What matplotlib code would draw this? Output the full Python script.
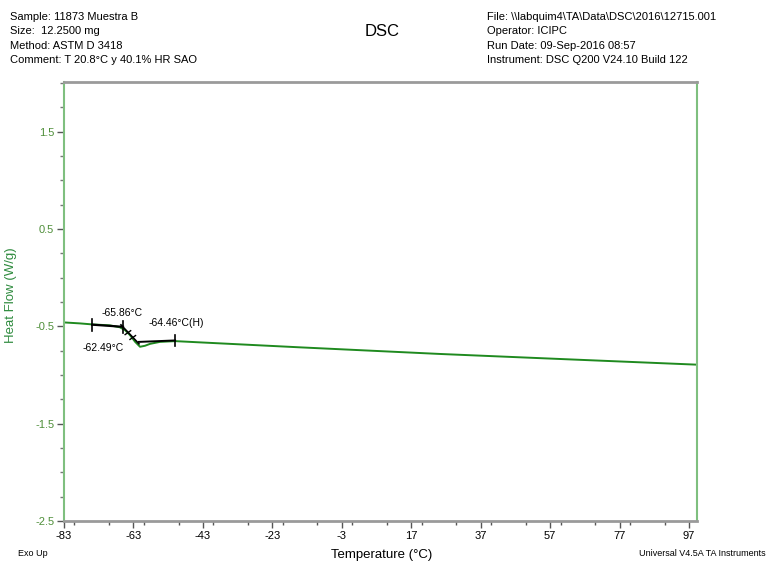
import matplotlib
matplotlib.use("Agg")
import matplotlib.pyplot as plt
from matplotlib.ticker import MultipleLocator, FixedLocator

plt.rcParams['font.family'] = ['Liberation Sans', 'DejaVu Sans']
plt.rcParams['axes.unicode_minus'] = False

# Data
temp = [-83, -78.4, -75, -69.8, -66.9, -65.4, -64, -62.5, -61.1, -59.7, -58.2,
        -55.4, -51, -43.8, -15, 25.3, 62.8, 99.3]
heat_flow = [-0.46, -0.47, -0.48, -0.49, -0.51, -0.54, -0.59, -0.66, -0.71, -0.70,
             -0.68, -0.66, -0.652, -0.665, -0.716, -0.784, -0.84, -0.894]

# Glass transition analysis construction
onset_T = [-74.9, -66.0]
onset_HF = [-0.483, -0.505]
infl_T = [-66.6, -61.4]
infl_HF = [-0.485, -0.68]
end_T = [-61.4, -51.0]
end_HF = [-0.66, -0.645]
tick_T = [-74.9, -66.0, -51.0]
tick_HF = [-0.483, -0.505, -0.645]

xticks = [-83, -63, -43, -23, -3, 17, 37, 57, 77, 97]
yticks = [-2.5, -1.5, -0.5, 0.5, 1.5]

W, H = 769, 563
fig = plt.figure(figsize=(W / 100, H / 100), dpi=100)
ax = fig.add_axes([64 / W, 1 - 521 / H, (697 - 64) / W, (521 - 82) / H])

green = '#1f8a1f'
tickc = '#4f8f3a'

ax.plot(temp, heat_flow, color=green, lw=1.4, zorder=2)
ax.plot(onset_T, onset_HF, color='black', lw=1.6, zorder=3)
ax.plot(infl_T, infl_HF, color='black', lw=1.2, zorder=3)
ax.plot(end_T, end_HF, color='black', lw=1.4, zorder=3)
for t, h in zip(tick_T, tick_HF):
    ax.plot([t, t], [h - 0.06, h + 0.06], color='black', lw=1.2, zorder=3)
# small marks on the inflection line
for t, h in [(-64.6, -0.565), (-63.2, -0.615)]:
    ax.plot([t - 0.8, t + 0.8], [h - 0.02, h + 0.02], color='black', lw=1.0, zorder=3)

ax.text(-66.3, -0.36, '-65.86\u00b0C', fontsize=7.5, ha='center', va='center')
ax.text(-58.6, -0.47, '-64.46\u00b0C(H)', fontsize=7.5, ha='left', va='center')
ax.text(-71.8, -0.72, '-62.49\u00b0C', fontsize=7.5, ha='center', va='center')

ax.set_xlim(-83, 99.3)
ax.set_ylim(-2.5, 2.01)
ax.xaxis.set_major_locator(FixedLocator(xticks))
ax.xaxis.set_minor_locator(MultipleLocator(10))
ax.yaxis.set_major_locator(FixedLocator(yticks))
ax.yaxis.set_minor_locator(MultipleLocator(0.25))
ax.tick_params(axis='x', which='major', length=5, width=1, color='#555555',
               labelsize=8, labelcolor='black', direction='out', pad=2)
ax.tick_params(axis='x', which='minor', length=3, width=1, color='#555555', direction='out')
ax.tick_params(axis='y', which='major', length=5, width=1, color='#555555',
               labelsize=8, labelcolor=tickc, direction='out', pad=2)
ax.tick_params(axis='y', which='minor', length=3, width=1, color='#777777', direction='out')
ax.set_yticklabels([f'{v:g}' for v in yticks])
ax.set_xticklabels([f'{v:g}' for v in xticks])

for s in ['top', 'bottom']:
    ax.spines[s].set_color('#9a9a9a')
    ax.spines[s].set_linewidth(2)
for s in ['left', 'right']:
    ax.spines[s].set_color('#7fbf7f')
    ax.spines[s].set_linewidth(1.5)

ax.set_ylabel('Heat Flow (W/g)', color='#2e8b3e', fontsize=9.5)
ax.yaxis.set_label_coords(-0.075, 0.515)

# Header texts
left_lines = ['Sample: 11873 Muestra B', 'Size:  12.2500 mg', 'Method: ASTM D 3418',
              'Comment: T 20.8\u00b0C y 40.1% HR SAO']
right_lines = ['File: \\\\labquim4\\TA\\Data\\DSC\\2016\\12715.001', 'Operator: ICIPC',
               'Run Date: 09-Sep-2016 08:57', 'Instrument: DSC Q200 V24.10 Build 122']
for i, s in enumerate(left_lines):
    fig.text(10 / W, 1 - (17 + i * 14.3) / H, s, fontsize=8, va='center', ha='left')
for i, s in enumerate(right_lines):
    fig.text(487 / W, 1 - (17 + i * 14.3) / H, s, fontsize=8, va='center', ha='left')
fig.text(382 / W, 1 - 31 / H, 'DSC', fontsize=12, ha='center', va='center')

fig.text(18 / W, 1 - 553 / H, 'Exo Up', fontsize=6.5, ha='left', va='center')
fig.text(382 / W, 1 - 555 / H, 'Temperature (\u00b0C)', fontsize=9.5, ha='center', va='center')
fig.text(766 / W, 1 - 553 / H, 'Universal V4.5A TA Instruments', fontsize=6.5,
         ha='right', va='center')

fig.savefig('out.png', dpi=100)
